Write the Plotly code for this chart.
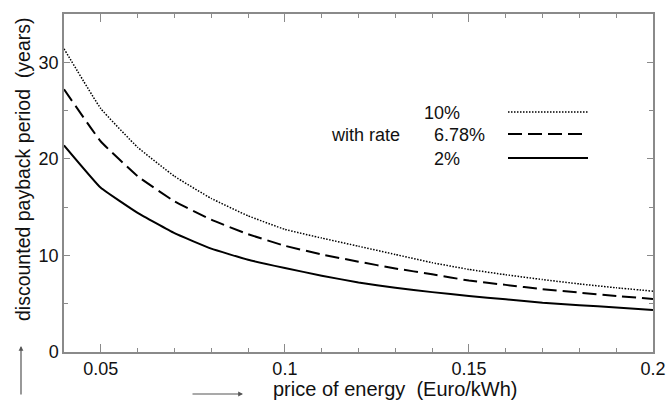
import plotly.graph_objects as go

price = [0.04, 0.05, 0.06, 0.07, 0.08, 0.09, 0.10, 0.11, 0.12, 0.13, 0.14,
         0.15, 0.16, 0.17, 0.18, 0.19, 0.20]
rate_10 = [31.4, 25.2, 21.2, 18.2, 15.9, 14.1, 12.7, 11.8, 10.95, 10.1, 9.25,
           8.55, 8.0, 7.5, 7.05, 6.65, 6.3]
rate_678 = [27.2, 21.8, 18.2, 15.6, 13.7, 12.2, 11.0, 10.1, 9.35, 8.65, 8.05,
            7.4, 6.95, 6.5, 6.15, 5.8, 5.5]
rate_2 = [21.4, 17.0, 14.4, 12.3, 10.7, 9.55, 8.7, 7.9, 7.2, 6.65, 6.2,
          5.8, 5.45, 5.1, 4.85, 4.6, 4.35]

x_ticks = [0.05, 0.1, 0.15, 0.2]
x_tick_labels = ["0.05", "0.1", "0.15", "0.2"]
y_ticks = [0, 10, 20, 30]

legend_labels = ["10%", "6.78%", "2%"]
legend_prefix = "with rate"

FONT = "Liberation Sans, Arial, sans-serif"
AX = "#8a8a8a"

fig = go.Figure()
series = [
    (rate_10, dict(color="black", width=1.5, dash="1.5px,1.5px")),
    (rate_678, dict(color="black", width=2, dash="14px,6px")),
    (rate_2, dict(color="black", width=2)),
]
for vals, ln in series:
    fig.add_trace(go.Scatter(x=price, y=vals, mode="lines", line=ln,
                             line_shape="spline", line_smoothing=0.3,
                             showlegend=False, hoverinfo="skip"))

W, H = 667, 403
L, R, T, B = 64, 14, 14, 51
pw, ph = W - L - R, H - T - B


def px(xp):
    return (xp - L) / pw


def py(yp):
    return (H - B - yp) / ph


fig.update_layout(
    width=W, height=H,
    margin=dict(l=L, r=R, t=T, b=B, autoexpand=False),
    paper_bgcolor="white", plot_bgcolor="white",
    font=dict(family=FONT, color="#111", size=18),
    xaxis=dict(range=[0.04, 0.2], tickvals=x_ticks, ticktext=x_tick_labels,
               automargin=False,
               ticks="inside", ticklen=8, tickcolor=AX, tickwidth=1.3,
               minor=dict(dtick=0.01, tick0=0, ticks="inside", ticklen=4,
                          tickcolor=AX, tickwidth=1.3),
               showline=True, linecolor=AX, linewidth=1.5, mirror="ticks",
               showgrid=False, zeroline=False,
               tickfont=dict(size=18, family=FONT, color="#111")),
    yaxis=dict(range=[0, 35], tickvals=y_ticks, automargin=False,
               ticks="inside", ticklen=6, tickcolor=AX, tickwidth=1.3,
               minor=dict(dtick=5, tick0=0, ticks="inside", ticklen=4,
                          tickcolor=AX, tickwidth=1.3),
               showline=True, linecolor=AX, linewidth=1.5, mirror="ticks",
               showgrid=False, zeroline=False,
               tickfont=dict(size=18, family=FONT, color="#111")),
)

ann = []
# axis titles
ann.append(dict(text="price of energy&nbsp;&nbsp;(Euro/kWh)", xref="paper", yref="paper",
                x=px(271), y=py(389), xanchor="left", yanchor="middle",
                showarrow=False, font=dict(size=20)))
ann.append(dict(text="discounted payback period&nbsp;&nbsp;(years)", xref="paper", yref="paper",
                x=px(23), y=py(169), xanchor="center", yanchor="middle",
                textangle=-90, showarrow=False, font=dict(size=19.5)))
# arrows
ann.append(dict(text="", xref="paper", yref="paper", x=px(21), y=py(346),
                ax=0, ay=50, showarrow=True, arrowhead=2, arrowsize=0.8,
                arrowwidth=1.2, arrowcolor="#555"))
ann.append(dict(text="", xref="paper", yref="paper", x=px(243), y=py(394),
                ax=-52, ay=0, showarrow=True, arrowhead=2, arrowsize=0.8,
                arrowwidth=1.2, arrowcolor="#555"))
# legend text
ann.append(dict(text=legend_labels[0], xref="paper", yref="paper", x=px(422), y=py(113),
                xanchor="left", yanchor="middle", showarrow=False))
ann.append(dict(text=legend_prefix, xref="paper", yref="paper", x=px(329), y=py(135),
                xanchor="left", yanchor="middle", showarrow=False))
ann.append(dict(text=legend_labels[1], xref="paper", yref="paper", x=px(432), y=py(135),
                xanchor="left", yanchor="middle", showarrow=False))
ann.append(dict(text=legend_labels[2], xref="paper", yref="paper", x=px(432), y=py(159),
                xanchor="left", yanchor="middle", showarrow=False))
fig.update_layout(annotations=ann)

shapes = []
for (vals, ln), yy in zip(series, [112, 134, 158]):
    shapes.append(dict(type="line", xref="paper", yref="paper",
                       x0=px(508), x1=px(588), y0=py(yy), y1=py(yy),
                       line=ln))
fig.update_layout(shapes=shapes)

fig.write_html("out.html")
